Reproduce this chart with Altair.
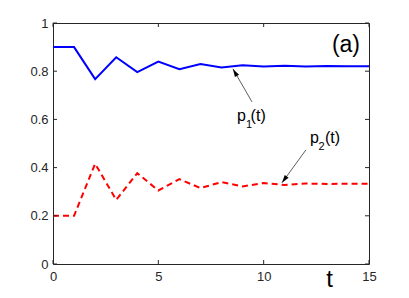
import altair as alt
import pandas as pd

# ---- data ----
t_vals = list(range(16))
p1_vals = [0.900, 0.900, 0.767, 0.858, 0.796, 0.840, 0.808, 0.830, 0.815,
           0.825, 0.819, 0.823, 0.820, 0.822, 0.821, 0.821]
p2_vals = [0.200, 0.200, 0.416, 0.266, 0.377, 0.305, 0.352, 0.315, 0.340,
           0.322, 0.336, 0.328, 0.334, 0.332, 0.333, 0.333]

x_ticks = [0, 5, 10, 15]
y_ticks = [0, 0.2, 0.4, 0.6, 0.8, 1.0]

# annotation texts (data coordinates)
ann_text = ["p", "1", "(t)", "p", "2", "(t)"]
ann_t = [8.73, 9.16, 9.38, 12.20, 12.60, 12.91]
ann_v = [0.594, 0.565, 0.594, 0.503, 0.472, 0.503]
ann_size = [16, 11, 16, 16, 11, 16]

# arrows: start (t, v) -> tip (t2, v2), head angle
arr_t = [9.445, 12.008]
arr_v = [0.6726, 0.4737]
arr_t2 = [8.543, 10.869]
arr_v2 = [0.8094, 0.3369]
arr_angle = [330, 216]

W, H = 316, 241
AX = "#262626"
FONT = "Liberation Sans"

xs = alt.Scale(domain=[0, 15], nice=False)
ys = alt.Scale(domain=[0, 1], nice=False)

df1 = pd.DataFrame({"t": t_vals, "p": p1_vals})
df2 = pd.DataFrame({"t": t_vals, "p": p2_vals})

x_enc = alt.X("t:Q", scale=xs,
              axis=alt.Axis(values=x_ticks, title="t", grid=False, ticks=False,
                            domain=False, labelPadding=6, labelFontSize=13,
                            labelFont=FONT, labelColor=AX, labelFlush=False,
                            titleFont=FONT, titleFontSize=24,
                            titleFontWeight="normal", titleColor="#000000",
                            titleX=276, titleY=22, titleAlign="center",
                            titleBaseline="alphabetic"))
y_enc = alt.Y("p:Q", scale=ys,
              axis=alt.Axis(values=y_ticks, title=None, grid=False, ticks=False,
                            domain=False, labelPadding=5, labelFontSize=13,
                            labelFont=FONT, labelColor=AX, format=".1~f",
                            labelFlush=False))

line1 = alt.Chart(df1).mark_line(color="#0000ff", strokeWidth=2).encode(x=x_enc, y=y_enc)
line2 = alt.Chart(df2).mark_line(color="#ff0000", strokeWidth=2,
                                 strokeDash=[6, 4]).encode(x="t:Q", y="p:Q")

# inward ticks
xt = pd.DataFrame({"t": x_ticks})
yt = pd.DataFrame({"p": y_ticks})
tick_b = alt.Chart(xt).mark_rule(color=AX, strokeWidth=1).encode(
    x="t:Q", y=alt.value(H - 4), y2=alt.value(H))
tick_t = alt.Chart(xt).mark_rule(color=AX, strokeWidth=1).encode(
    x="t:Q", y=alt.value(0), y2=alt.value(4))
tick_l = alt.Chart(yt).mark_rule(color=AX, strokeWidth=1).encode(
    y="p:Q", x=alt.value(0), x2=alt.value(4))
tick_r = alt.Chart(yt).mark_rule(color=AX, strokeWidth=1).encode(
    y="p:Q", x=alt.value(W - 4), x2=alt.value(W))

# annotations
ann = pd.DataFrame({"txt": ann_text, "t": ann_t, "p": ann_v, "fs": ann_size})
ann_marks = alt.Chart(ann).mark_text(align="left", baseline="alphabetic",
                                     font=FONT, color="#000000").encode(
    x="t:Q", y="p:Q", text="txt:N",
    size=alt.Size("fs:Q", scale=None, legend=None))

arr = pd.DataFrame({"t": arr_t, "p": arr_v, "t2": arr_t2, "p2": arr_v2, "ang": arr_angle})
arr_line = alt.Chart(arr).mark_rule(color="#333333", strokeWidth=0.8).encode(
    x="t:Q", y="p:Q", x2="t2:Q", y2="p2:Q")
arr_head = alt.Chart(arr).mark_point(
    shape="M0,0 L-0.6,2 L0.6,2 Z", filled=True, color="#000000",
    size=64, opacity=1, strokeWidth=0).encode(
    x=alt.X("t2:Q"), y=alt.Y("p2:Q"),
    angle=alt.Angle("ang:Q", scale=None))

panel = pd.DataFrame({"txt": ["(a)"], "t": [13.906], "p": [0.880]})
panel_mark = alt.Chart(panel).mark_text(align="center", baseline="alphabetic",
                                        font=FONT, fontSize=23, color="#000000").encode(
    x="t:Q", y="p:Q", text="txt:N")

chart = alt.layer(
    line1, line2, tick_b, tick_t, tick_l, tick_r,
    arr_line, arr_head, ann_marks, panel_mark
).properties(
    width=W, height=H,
    autosize=alt.AutoSizeParams(type="none"),
    padding={"left": 45, "top": 15, "right": 32, "bottom": 28},
    background="white",
).configure_view(stroke=AX, strokeWidth=1)

chart.save("out.html", embed_options={"renderer": "svg", "actions": False})
